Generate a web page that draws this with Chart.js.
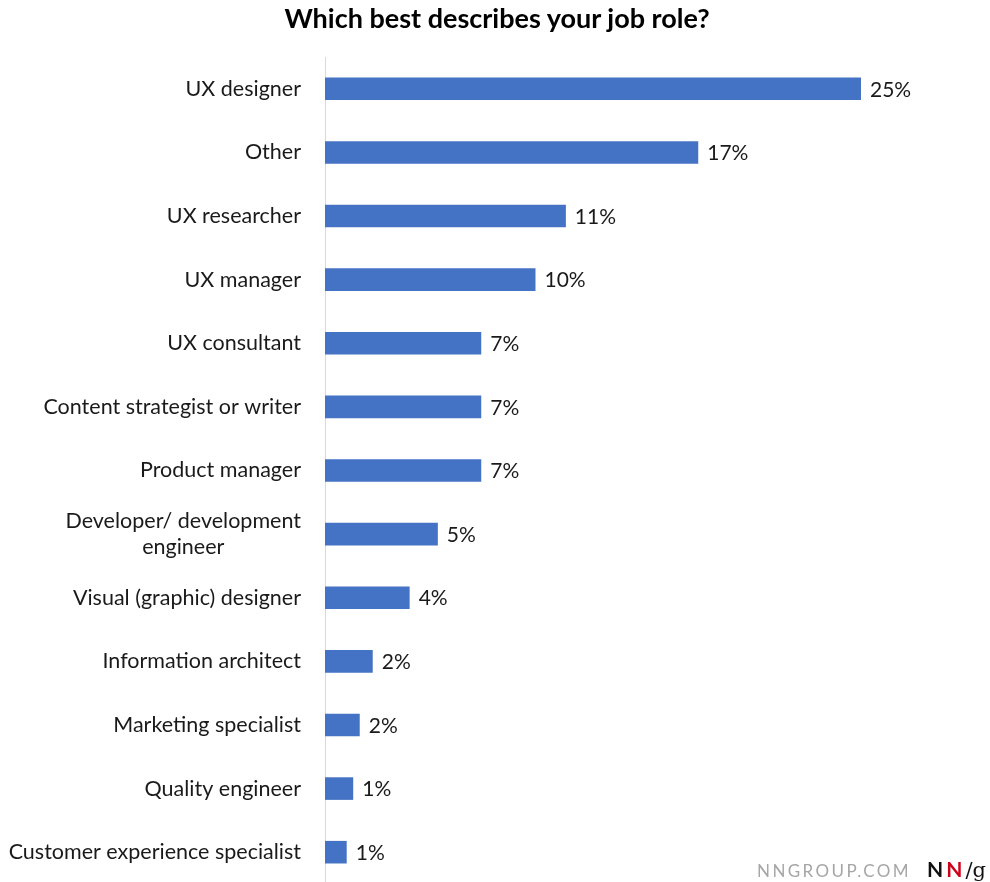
<!DOCTYPE html>
<html>
<head>
<meta charset="utf-8">
<script src="https://cdn.jsdelivr.net/npm/chart.js@4.4.1/dist/chart.umd.min.js"></script>
<style>
  html, body { margin: 0; padding: 0; background: #fff; overflow: hidden; }
  #wrap { position: relative; width: 990px; height: 884px; }
  #title {
    position: absolute; left: 0; top: 1px; width: 994px; text-align: center;
    font: bold 27px Lato, "Open Sans", sans-serif; color: #000;
  }
  #brand {
    position: absolute; left: 757px; top: 856px;
    font: 17px Lato, sans-serif; color: #a6a6a6; letter-spacing: 2.4px;
  }
  #brand .nn { font-weight: bold; color: #111; margin-left: 16px; letter-spacing: 3px; font-size: 21px; }
  #brand .red { color: #d0021b; }
  #brand .g { font-family: "DejaVu Serif", serif; font-weight: normal; color: #111; font-size: 21px; letter-spacing: 0; }
</style>
</head>
<body>
<div id="wrap">
  <canvas id="roleChart"></canvas>
  <div id="title">Which best describes your job role?</div>
  <div id="brand">NNGROUP.COM<span class="nn">N<span class="red">N</span></span><span class="g">/g</span></div>
</div>
<script>
// survey answers, share of respondents (%)
const roles = [
  'UX designer',
  'Other',
  'UX researcher',
  'UX manager',
  'UX consultant',
  'Content strategist or writer',
  'Product manager',
  ['Developer/ development', 'engineer'],
  'Visual (graphic) designer',
  'Information architect',
  'Marketing specialist',
  'Quality engineer',
  'Customer experience specialist'
];
const shares = [24.7, 17.2, 11.1, 9.7, 7.2, 7.2, 7.2, 5.2, 3.9, 2.2, 1.6, 1.3, 1.0];

const FONT = 'Lato, "Open Sans", sans-serif';

// category labels: right-aligned block, multi-line labels centered within it
const roleLabels = {
  id: 'roleLabels',
  afterDraw(chart) {
    const { ctx, scales: { y } } = chart;
    const right = y.right - 24;
    ctx.save();
    ctx.font = '21.5px ' + FONT;
    ctx.fillStyle = '#1a1a1a';
    ctx.textBaseline = 'middle';
    ctx.textAlign = 'center';
    roles.forEach((r, i) => {
      const lines = Array.isArray(r) ? r : [r];
      const w = Math.max(...lines.map(l => ctx.measureText(l).width));
      const cy = y.getPixelForValue(i);
      const lh = 26;
      lines.forEach((l, k) => {
        ctx.fillText(l, right - w / 2, cy + (k - (lines.length - 1) / 2) * lh);
      });
    });
    ctx.restore();
  }
};

// percentage next to each bar
const valueLabels = {
  id: 'valueLabels',
  afterDatasetsDraw(chart) {
    const { ctx } = chart;
    const meta = chart.getDatasetMeta(0);
    ctx.save();
    ctx.font = '21px ' + FONT;
    ctx.fillStyle = '#1a1a1a';
    ctx.textBaseline = 'middle';
    ctx.textAlign = 'left';
    meta.data.forEach((bar, i) => {
      ctx.fillText(Math.round(shares[i]) + '%', bar.x + 9, bar.y + 1);
    });
    ctx.restore();
  }
};

new Chart(document.getElementById('roleChart'), {
  type: 'bar',
  data: {
    labels: roles,
    datasets: [{
      data: shares,
      backgroundColor: '#4472c4',
      borderWidth: 0,
      barPercentage: 0.355,
      categoryPercentage: 1
    }]
  },
  options: {
    indexAxis: 'y',
    responsive: true,
    maintainAspectRatio: false,
    animation: false,
    layout: { padding: { left: 0, right: 14, top: 57, bottom: 0 } },
    plugins: {
      legend: { display: false },
      tooltip: { enabled: false }
    },
    scales: {
      x: { display: false, min: 0, max: 30 },
      y: {
        offset: true,
        grid: { display: false, drawTicks: false },
        border: { color: '#d9d9d9', width: 1 },
        ticks: { display: false },
        afterFit(scale) { scale.width = 325; }
      }
    }
  },
  plugins: [roleLabels, valueLabels]
});
</script>
</body>
</html>
